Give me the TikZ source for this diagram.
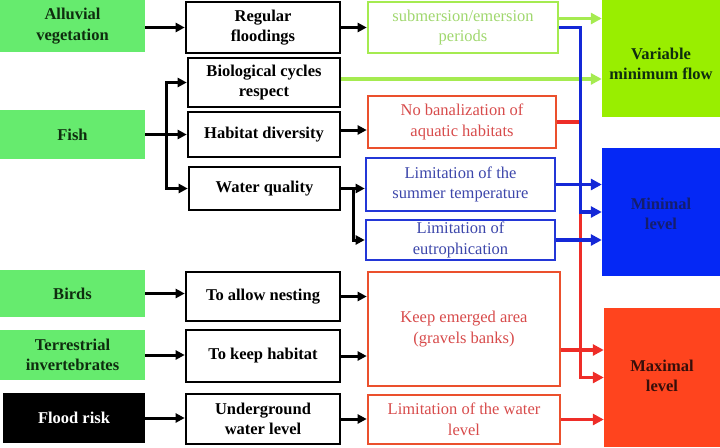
\documentclass[tikz,border=0pt]{standalone}
\usepackage{fontspec}
\setmainfont{Liberation Serif}
\usetikzlibrary{arrows.meta,calc}
\definecolor{lgreen}{RGB}{102,235,110}
\definecolor{dkgreen}{RGB}{15,45,15}
\definecolor{chart}{RGB}{153,238,0}
\definecolor{pgreen}{RGB}{165,235,80}
\definecolor{pgtext}{RGB}{160,215,110}
\definecolor{rborder}{RGB}{235,80,45}
\definecolor{rtext}{RGB}{215,75,75}
\definecolor{rline}{RGB}{238,45,40}
\definecolor{bborder}{RGB}{35,55,215}
\definecolor{btext}{RGB}{60,70,170}
\definecolor{bline}{RGB}{20,40,215}
\definecolor{minfill}{RGB}{5,40,245}
\definecolor{mintext}{RGB}{20,30,110}
\definecolor{maxfill}{RGB}{255,68,30}
\definecolor{maxtext}{RGB}{55,15,10}
\tikzset{
  txt/.style={font=\fontsize{16.5}{20.5}\selectfont, align=center, inner sep=0pt},
  src/.style={txt, font=\fontsize{16.5}{20.5}\selectfont\bfseries, fill=lgreen, text=dkgreen, minimum width=145pt},
  mid/.style={txt, font=\fontsize{16.5}{20.5}\selectfont\bfseries, draw=black, line width=2.6pt, fill=white},
  gbox/.style={txt, draw=pgreen, line width=2.6pt, text=pgtext},
  rbox/.style={txt, draw=rborder, line width=2.6pt, text=rtext},
  bbox/.style={txt, draw=bborder, line width=2.6pt, text=btext},
  goal/.style={txt, font=\fontsize{16.5}{20.5}\selectfont\bfseries},
  arr/.style={-{Triangle[length=9pt,width=9pt]}, line width=3pt},
  carr/.style={-{Triangle[length=11pt,width=11pt]}, line width=3.6pt}
}
\begin{document}
\begin{tikzpicture}[x=1pt,y=-1pt]
\useasboundingbox (0,0) rectangle (720,447);
% left column
\node[src, minimum height=52pt] (alluv) at (72.5,26) {Alluvial\\vegetation};
\node[src, minimum height=49pt] (fish) at (72.5,134.5) {Fish};
\node[src, minimum height=47pt] (birds) at (72.5,293.5) {Birds};
\node[src, minimum height=50pt] (terr) at (72.5,355) {Terrestrial\\invertebrates};
\node[src, fill=black, text=white, minimum width=142pt, minimum height=50pt] (flood) at (74,418) {Flood risk};
% middle column
\node[mid, minimum width=154pt, minimum height=51pt] (reg) at (263,27.5) {Regular\\floodings};
\node[mid, minimum width=152pt, minimum height=49pt] (bio) at (264,82.5) {Biological cycles\\respect};
\node[mid, minimum width=152pt, minimum height=45pt] (hab) at (264,134.5) {Habitat diversity};
\node[mid, minimum width=151pt, minimum height=43pt] (water) at (264.5,188.5) {Water quality};
\node[mid, minimum width=154pt, minimum height=49pt] (nest) at (263,296.5) {To allow nesting};
\node[mid, minimum width=154pt, minimum height=52pt] (keep) at (263,356) {To keep habitat};
\node[mid, minimum width=154pt, minimum height=50pt] (under) at (263,419) {Underground\\water level};
% third column
\node[gbox, minimum width=190pt, minimum height=51pt] (subm) at (463,27.5) {submersion/emersion\\periods};
\node[rbox, minimum width=188pt, minimum height=52pt] (noban) at (462,122) {No banalization of\\aquatic habitats};
\node[bbox, minimum width=189pt, minimum height=53pt] (summer) at (460.5,184.5) {Limitation of the\\summer temperature};
\node[bbox, minimum width=189pt, minimum height=40pt] (eutro) at (460.5,240) {Limitation of\\eutrophication};
\node[rbox, minimum width=192pt, minimum height=114pt] (keepem) at (464,329) {Keep emerged area\\(gravels banks)};
\node[rbox, minimum width=192pt, minimum height=49pt] (limwl) at (464,419.5) {Limitation of the water\\level};
% right column
\node[fill=chart, minimum width=118pt, minimum height=117pt, inner sep=0pt] (varf) at (661,58.5) {};
\node[goal, text=dkgreen] (varft) at (661,64) {Variable\\minimum flow};
\node[fill=minfill, minimum width=118pt, minimum height=128pt, inner sep=0pt] (minl) at (661,212) {};
\node[goal, text=mintext] (minlt) at (661,214) {Minimal\\level};
\node[fill=maxfill, minimum width=116pt, minimum height=139pt, inner sep=0pt] (maxl) at (662,377.5) {};
\node[goal, text=maxtext] (maxlt) at (662,376) {Maximal\\level};
% left to middle
\draw[arr] (alluv.east |- reg.west) -- (reg.west);
\coordinate (fb) at (166,134.5);
\draw[arr] (fish.east) -- (hab.west);
\draw[arr] (fb) |- (bio.west);
\draw[arr] (fb) |- (water.west);
\draw[arr] (birds.east) -- (nest.west |- birds.east);
\draw[arr] (terr.east) -- (keep.west |- terr.east);
\draw[arr] (flood.east) -- (under.west |- flood.east);
% middle to third
\draw[arr] (reg.east) -- (subm.west |- reg.east);
\coordinate (nb) at ([yshift=-8pt]noban.west);
\draw[arr] (hab.east |- nb) -- (nb);
\draw[arr] (water.east) -- (summer.west |- water.east);
\coordinate (wb) at (353,188.5);
\draw[arr] (wb) |- (eutro.west);
\draw[arr] (nest.east) -- (keepem.west |- nest.east);
\draw[arr] (keep.east) -- (keepem.west |- keep.east);
\draw[arr] (under.east) -- (limwl.west |- under.east);
% third to right
\coordinate (sg) at ([yshift=9pt]subm.east);
\draw[carr, pgreen] (sg) -- (varf.west |- sg);
\coordinate (bg) at ([yshift=3.5pt]bio.east);
\draw[carr, pgreen] (bg) -- (varf.west |- bg);
\draw[carr, rline] (noban.east) -- ++(23,0) |- (maxl.west);
\draw[carr, bline] (subm.east) -- ++(21,0) |- (minl.west);
\draw[carr, bline] (summer.east) -- (minl.west |- summer.east);
\draw[carr, bline] (eutro.east) -- (minl.west |- eutro.east);
\coordinate (ke) at ([yshift=-21pt]keepem.east);
\draw[carr, rline] (ke) -- (maxl.west |- ke);
\draw[carr, rline] (limwl.east) -- (maxl.west |- limwl.east);
\end{tikzpicture}
\end{document}
